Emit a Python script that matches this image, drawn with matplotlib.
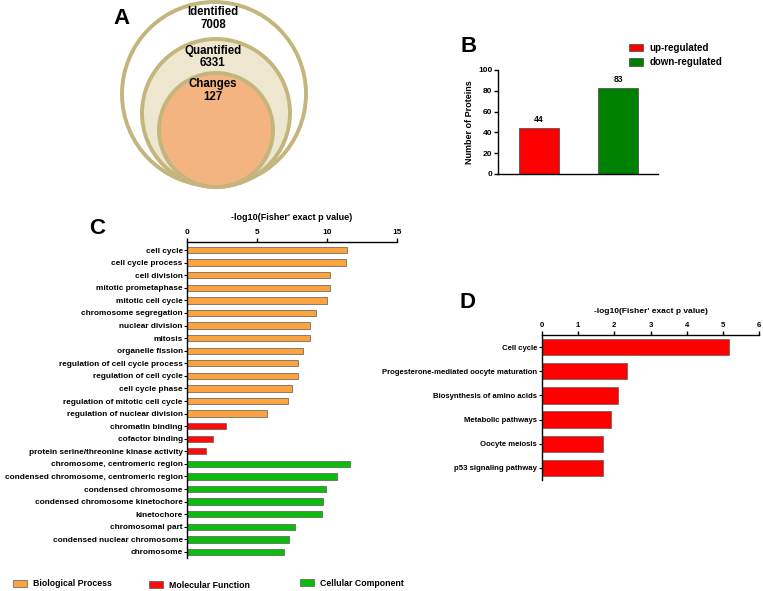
import matplotlib
matplotlib.use('Agg')
import matplotlib.pyplot as plt
from matplotlib.patches import Circle, Patch
import numpy as np

plt.rcParams['font.family'] = ['Liberation Sans', 'DejaVu Sans']
plt.rcParams['font.weight'] = 'bold'
plt.rcParams['axes.labelweight'] = 'bold'

# ---------------- data ----------------
venn_labels = ['Identified', 'Quantified', 'Changes']
venn_counts = [7008, 6331, 127]

reg_labels = ['up-regulated', 'down-regulated']
reg_counts = [44, 83]

go_terms = ['cell cycle', 'cell cycle process', 'cell division', 'mitotic prometaphase',
            'mitotic cell cycle', 'chromosome segregation', 'nuclear division', 'mitosis',
            'organelle fission', 'regulation of cell cycle process', 'regulation of cell cycle',
            'cell cycle phase', 'regulation of mitotic cell cycle', 'regulation of nuclear division',
            'chromatin binding', 'cofactor binding', 'protein serine/threonine kinase activity',
            'chromosome, centromeric region', 'condensed chromosome, centromeric region',
            'condensed chromosome', 'condensed chromosome kinetochore', 'kinetochore',
            'chromosomal part', 'condensed nuclear chromosome', 'chromosome']
go_values = [11.43, 11.36, 10.19, 10.19, 10.0, 9.21, 8.81, 8.81, 8.26, 7.93, 7.9, 7.5,
             7.19, 5.69, 2.76, 1.86, 1.33, 11.64, 10.71, 9.93, 9.71, 9.67, 7.71, 7.31, 6.93]
go_groups = ['Biological Process'] * 14 + ['Molecular Function'] * 3 + ['Cellular Component'] * 8
group_names = ['Biological Process', 'Molecular Function', 'Cellular Component']

kegg_terms = ['Cell cycle', 'Progesterone-mediated oocyte maturation', 'Biosynthesis of amino acids',
              'Metabolic pathways', 'Oocyte meiosis', 'p53 signaling pathway']
kegg_values = [5.17, 2.35, 2.11, 1.91, 1.70, 1.70]

xlabel_text = "-log10(Fisher' exact p value)"

# ---------------- style ----------------
group_colors = {'Biological Process': '#fba33f', 'Molecular Function': '#ff0a0a',
                'Cellular Component': '#0cbc0c'}
reg_colors = ['#ff0000', '#008000']
ring_color = '#c3b57c'
venn_fills = ['#ffffff', '#ede7cf', '#f3b482']

W, H = 763, 591
fig = plt.figure(figsize=(W / 100, H / 100), dpi=100)


def px_axes(l, t, r, b):
    return fig.add_axes([l / W, 1 - b / H, (r - l) / W, (b - t) / H])


def fx(x):
    return x / W


def fy(y):
    return 1 - y / H


# ---------------- Panel A ----------------
axA = px_axes(100, 0, 330, 196)
axA.set_xlim(100, 330)
axA.set_ylim(196, 0)
axA.axis('off')
circ_geom = [(214, 94, 92), (216, 113, 74), (216, 130, 57)]
for (cx, cy, r), fc in zip(circ_geom, venn_fills):
    axA.add_patch(Circle((cx, cy), r, facecolor=fc, edgecolor=ring_color, lw=2.8, zorder=2))
label_y = [(12, 25), (51, 63), (84, 97)]
for lab, cnt, (y1, y2) in zip(venn_labels, venn_counts, label_y):
    axA.text(213, y1, lab, ha='center', va='center', fontsize=8.3, fontweight='bold', zorder=5)
    axA.text(213, y2, str(cnt), ha='center', va='center', fontsize=8.3, fontweight='bold', zorder=5)
fig.text(fx(122), fy(18), 'A', ha='center', va='center', fontsize=16, fontweight='bold')

# ---------------- Panel B ----------------
axB = px_axes(498, 70, 658, 174)
xb = np.arange(len(reg_counts))
axB.bar(xb, reg_counts, width=0.506, color=reg_colors, edgecolor='#555555', lw=0.6)
axB.set_xlim(-0.52, 1.506)
axB.set_ylim(0, 100)
axB.set_yticks([0, 20, 40, 60, 80, 100])
axB.set_xticks([])
for s in ['top', 'right']:
    axB.spines[s].set_visible(False)
axB.spines['left'].set_linewidth(1.0)
axB.spines['bottom'].set_linewidth(1.0)
axB.tick_params(axis='y', labelsize=6, length=3, width=1, pad=1)
axB.set_ylabel('Number of Proteins', fontsize=6.5, fontweight='bold', labelpad=3)
for x, v in zip(xb, reg_counts):
    axB.annotate(str(v), (x, v), xytext=(0, 6), textcoords='offset points',
                 ha='center', va='center', fontsize=6.2, fontweight='bold')
handlesB = [Patch(facecolor=c, edgecolor='#555555', lw=0.6) for c in reg_colors]
fig.legend(handlesB, reg_labels, loc='upper left', bbox_to_anchor=(fx(629), fy(43)),
           bbox_transform=fig.transFigure, frameon=False, handlelength=1.4,
           handleheight=0.75, handletextpad=0.7, labelspacing=0.45, borderpad=0,
           borderaxespad=0, prop={'weight': 'bold', 'size': 7})
fig.text(fx(469), fy(47), 'B', ha='center', va='center', fontsize=16, fontweight='bold')

# ---------------- Panel C ----------------
axC = px_axes(187, 242, 397, 558)
yc = np.arange(len(go_terms))
axC.barh(yc, go_values, height=0.5, color=[group_colors[g] for g in go_groups],
         edgecolor='#5a5a5a', lw=0.5)
axC.set_xlim(0, 15)
axC.set_ylim(len(go_terms) - 1 + 0.48, -0.64)
axC.set_yticks(yc)
axC.set_yticklabels(go_terms)
axC.xaxis.set_label_position('top')
axC.xaxis.tick_top()
axC.set_xticks([0, 5, 10, 15])
for s in ['bottom', 'right']:
    axC.spines[s].set_visible(False)
axC.spines['left'].set_linewidth(1.0)
axC.spines['top'].set_linewidth(1.0)
axC.tick_params(axis='y', labelsize=5.95, length=2.5, width=0.8, pad=0.6)
axC.tick_params(axis='x', labelsize=6.0, length=3, width=1, pad=1.5)
axC.set_xlabel(xlabel_text, fontsize=6.5, fontweight='bold', labelpad=6)
fig.text(fx(97), fy(228), 'C', ha='center', va='center', fontsize=16, fontweight='bold')

leg_pos = [(13, 584), (149, 585), (300, 583)]
for gname, (lx, ly) in zip(group_names, leg_pos):
    fig.legend([Patch(facecolor=group_colors[gname], edgecolor='#5a5a5a', lw=0.5)], [gname],
               loc='center left', bbox_to_anchor=(fx(lx), fy(ly)), bbox_transform=fig.transFigure,
               frameon=False, handlelength=1.55, handleheight=0.72, handletextpad=0.7,
               borderpad=0, borderaxespad=0, prop={'weight': 'bold', 'size': 6.3})

# ---------------- Panel D ----------------
axD = px_axes(542, 335, 759, 480)
yd = np.arange(len(kegg_terms))
axD.barh(yd, kegg_values, height=0.67, color='#ff0000', edgecolor='#5a5a5a', lw=0.5)
axD.set_xlim(0, 6)
axD.set_ylim(len(kegg_terms) - 0.5, -0.5)
axD.set_yticks(yd)
axD.set_yticklabels(kegg_terms)
axD.xaxis.set_label_position('top')
axD.xaxis.tick_top()
axD.set_xticks([0, 1, 2, 3, 4, 5, 6])
for s in ['bottom', 'right']:
    axD.spines[s].set_visible(False)
axD.spines['left'].set_linewidth(1.0)
axD.spines['top'].set_linewidth(1.0)
axD.tick_params(axis='y', labelsize=5.6, length=2.5, width=0.8, pad=1)
axD.tick_params(axis='x', labelsize=5.6, length=3, width=1, pad=1.5)
axD.set_xlabel(xlabel_text, fontsize=6.0, fontweight='bold', labelpad=6)
fig.text(fx(468), fy(303), 'D', ha='center', va='center', fontsize=16, fontweight='bold')

fig.savefig('out.png', dpi=100)
